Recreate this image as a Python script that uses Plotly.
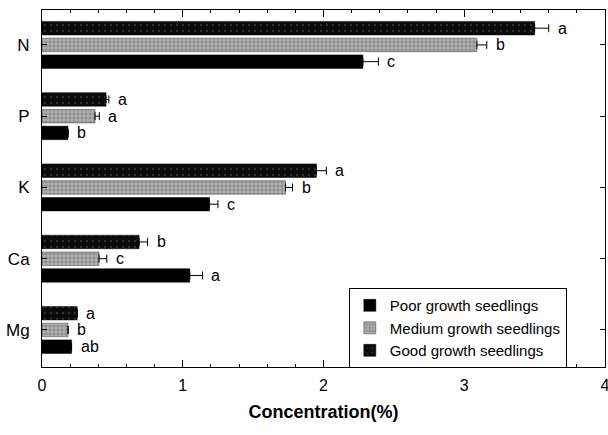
import plotly.graph_objects as go

nutrients = ["N", "P", "K", "Ca", "Mg"]
series_names = ["Poor growth seedlings", "Medium growth seedlings", "Good growth seedlings"]

poor_vals = [2.28, 0.185, 1.19, 1.05, 0.21]
medium_vals = [3.09, 0.377, 1.73, 0.405, 0.185]
good_vals = [3.50, 0.455, 1.95, 0.69, 0.25]

poor_err = [0.11, 0.0, 0.06, 0.09, 0.0]
medium_err = [0.07, 0.03, 0.05, 0.055, 0.0]
good_err = [0.10, 0.02, 0.07, 0.06, 0.0]

poor_letters = ["c", "b", "c", "a", "ab"]
medium_letters = ["b", "a", "b", "c", "b"]
good_letters = ["a", "a", "a", "b", "a"]

x_ticks = [0, 1, 2, 3, 4]

cat_pos = list(range(len(nutrients)))
offsets = {"poor": 0.235, "medium": 0.0, "good": -0.235}
bar_w = 0.19

fig = go.Figure()

specs = [
    ("poor", series_names[0], poor_vals, poor_err, poor_letters,
     dict(color="#000000", line=dict(color="#000000", width=0.5))),
    ("medium", series_names[1], medium_vals, medium_err, medium_letters,
     dict(color="#bdbdbd", line=dict(color="#444444", width=0.5),
          pattern=dict(shape="+", fgcolor="#f2f2f2", bgcolor="#8c8c8c", size=4, solidity=0.4))),
    ("good", series_names[2], good_vals, good_err, good_letters,
     dict(color="#0a0a0a", line=dict(color="#000000", width=0.5),
          pattern=dict(shape=".", fgcolor="#5a5a5a", bgcolor="#0a0a0a", size=6, solidity=0.12))),
]

for key, name, vals, errs, letters, marker in specs:
    ys = [p + offsets[key] for p in cat_pos]
    fig.add_trace(go.Bar(
        x=vals, y=ys, orientation="h", width=bar_w, name=name,
        marker=marker,
        error_x=dict(type="data", array=errs, arrayminus=[0] * len(errs),
                     symmetric=False, color="#000000", thickness=1, width=4),
    ))
    for v, e, y, t in zip(vals, errs, ys, letters):
        fig.add_annotation(x=v + e, y=y, text=t, showarrow=False,
                           xanchor="left", yanchor="middle", xshift=7,
                           font=dict(size=16, color="#000000"))

fig.update_layout(
    width=608, height=435,
    margin=dict(l=42, r=3, t=10, b=68, autoexpand=False),
    plot_bgcolor="#ffffff", paper_bgcolor="#ffffff",
    font=dict(family="Liberation Sans, Arial, sans-serif", color="#000000"),
    barmode="overlay",
    showlegend=True,
    legend=dict(x=0.545, y=0.221, xanchor="left", yanchor="top",
                bordercolor="#000000", borderwidth=1, bgcolor="#ffffff",
                font=dict(size=15), traceorder="normal",
                itemwidth=30, tracegroupgap=0),
)

fig.update_xaxes(
    range=[0, 4], tickvals=x_ticks, ticktext=[str(t) for t in x_ticks],
    ticks="inside", ticklen=7, tickcolor="#000000",
    minor=dict(dtick=0.2, ticks="inside", ticklen=3, tickcolor="#000000"),
    showline=True, linecolor="#000000", linewidth=1, mirror="ticks",
    showgrid=False, zeroline=False, automargin=False,
    ticklabeloverflow="allow", ticklabelstandoff=4,
    tickfont=dict(size=16),
    title=dict(text="<b>Concentration(%)</b>", font=dict(size=18), standoff=12),
)

fig.update_yaxes(
    range=[4.52, -0.49], tickvals=cat_pos, ticktext=nutrients,
    ticks="inside", ticklen=5, tickcolor="#000000",
    showline=True, linecolor="#000000", linewidth=1, mirror="ticks",
    showgrid=False, zeroline=False, automargin=False,
    ticklabelstandoff=8,
    tickfont=dict(size=17),
)

fig.write_html("out.html", config={"displayModeBar": False},
               post_script="document.body.style.margin='0';")
